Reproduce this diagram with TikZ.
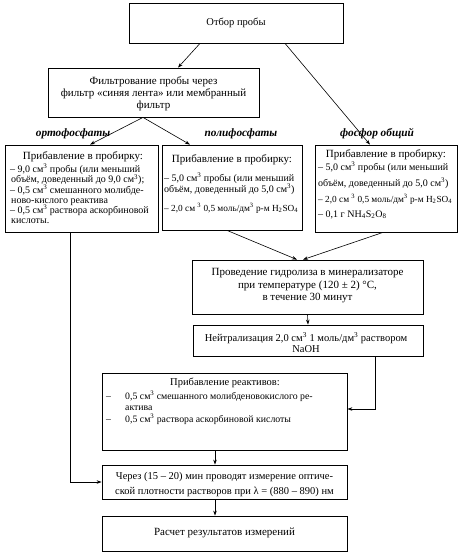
\documentclass[tikz,border=0pt]{standalone}
\usepackage{fontspec}
\setmainfont{Liberation Serif}
\usetikzlibrary{arrows.meta}
\begin{document}
\begin{tikzpicture}[x=1pt,y=-1pt,
  box/.style={draw, line width=0.8pt, inner sep=0pt, fill=white},
  big/.style={inner sep=0pt, anchor=mid, font=\fontsize{10.5}{12}\selectfont},
  bigl/.style={inner sep=0pt, anchor=mid, font=\fontsize{11}{12}\selectfont},
  mid/.style={inner sep=0pt, anchor=mid west, font=\fontsize{9.8}{11}\selectfont},
  head/.style={inner sep=0pt, anchor=mid, font=\fontsize{11}{13}\selectfont},
  sm/.style={inner sep=0pt, anchor=mid west, font=\fontsize{10}{11}\selectfont},
  smc/.style={inner sep=0pt, anchor=mid west, font=\fontsize{9.3}{11}\selectfont},
  lab/.style={inner sep=0pt, anchor=mid, font=\fontsize{11.3}{13}\bfseries\itshape},
  ln/.style={line width=0.6pt},
  arr/.style={ln, -{Stealth[length=5pt,width=3.5pt]}}
]
\useasboundingbox (0,0) rectangle (468,556);
\fill[white] (0,0) rectangle (468,556);

% boxes
\node[box, minimum width=214pt, minimum height=40pt] (b1) at (236,23) {};
\node[box, minimum width=211pt, minimum height=49pt] (b2) at (153.5,92.5) {};
\node[box, minimum width=153pt, minimum height=87pt] (b3a) at (81.5,188.5) {};
\node[box, minimum width=140pt, minimum height=85pt] (b3b) at (232,187.5) {};
\node[box, minimum width=142pt, minimum height=87pt] (b3c) at (386,188.5) {};
\node[box, minimum width=231pt, minimum height=54pt] (b4) at (307.5,287) {};
\node[box, minimum width=230pt, minimum height=31pt] (b5) at (308,340.5) {};
\node[box, minimum width=245pt, minimum height=77pt] (b6) at (224.5,411.5) {};
\node[box, minimum width=245pt, minimum height=34pt] (b7) at (224.5,482) {};
\node[box, minimum width=245pt, minimum height=35pt] (b8) at (224.5,533.5) {};

% texts
\node[big] (t1) at (236,23) {Отбор пробы};
\node[bigl] (t2a) at (153.5,82) {Фильтрование пробы через};
\node[bigl] (t2b) at (153.5,94) {фильтр «синяя лента» или мембранный};
\node[bigl] (t2c) at (153.5,106) {фильтр};

\node[head] (h3a) at (83,157) {Прибавление в пробирку:};
\node[sm] (a1) at (10,170) {– 9,0 см\textsuperscript{3} пробы (или меньший};
\node[sm] (a2) at (11,180.5) {объём, доведенный до 9,0 см\textsuperscript{3});};
\node[sm] (a3) at (10,191) {– 0,5 см\textsuperscript{3} смешанного молибде-};
\node[sm] (a4) at (11,201) {ново-кислого реактива};
\node[sm] (a5) at (10,211) {– 0,5 см\textsuperscript{3} раствора аскорбиновой};
\node[sm] (a6) at (11,221) {кислоты.};

\node[head] (h3b) at (232,160) {Прибавление в пробирку:};
\node[sm] (p1) at (164,179) {– 5,0 см\textsuperscript{3} пробы (или меньший};
\node[sm] (p2) at (164,190) {объём, доведенный до 5,0 см\textsuperscript{3})};
\node[smc] (p3) at (164,209) {– 2,0 см \textsuperscript{3} 0,5 моль/дм\textsuperscript{3} р-м H\textsubscript{2}SO\textsubscript{4}};

\node[head] (h3c) at (386,155) {Прибавление в пробирку:};
\node[sm] (c1) at (318,168) {– 5,0 см\textsuperscript{3} пробы (или меньший};
\node[sm] (c2) at (318,184) {объём, доведенный до 5,0 см\textsuperscript{3})};
\node[smc] (c3) at (318,200) {– 2,0 см \textsuperscript{3} 0,5 моль/дм\textsuperscript{3} р-м H\textsubscript{2}SO\textsubscript{4}};
\node[sm] (c4) at (318,215) {– 0,1 г NH\textsubscript{4}S\textsubscript{2}O\textsubscript{8}};

\node[lab] (l1) at (73,134) {ортофосфаты};
\node[lab] (l2) at (241,134) {полифосфаты};
\node[lab] (l3) at (377,134) {фосфор общий};

\node[bigl] (t4a) at (307.5,273) {Проведение гидролиза в минерализаторе};
\node[bigl] (t4b) at (307.5,286) {при температуре (120 ± 2) °C,};
\node[bigl] (t4c) at (307.5,298) {в течение 30 минут};

\node[big] (t5a) at (306,339) {Нейтрализация 2,0 см\textsuperscript{3} 1 моль/дм\textsuperscript{3} раствором};
\node[big] (t5b) at (306,350) {NaOH};

\node[big] (t6) at (225,383) {Прибавление реактивов:};
\node[mid] (d1) at (106,397) {–};
\node[mid] (r1) at (125,397) {0,5 см\textsuperscript{3} смешанного молибденовокислого ре-};
\node[mid] (r2) at (125,408) {актива};
\node[mid] (d2) at (106,420) {–};
\node[mid] (r3) at (125,420) {0,5 см\textsuperscript{3} раствора аскорбиновой кислоты};

\node[big] (t7a) at (224.5,477) {Через (15 – 20) мин проводят измерение оптиче-};
\node[big] (t7b) at (224.5,492) {ской плотности растворов при λ = (880 – 890) нм};

\node[bigl] (t8) at (224.5,533) {Расчет результатов измерений};

% connectors
\draw[arr] ([xshift=-36pt]b1.south) -- ([xshift=24.5pt]b2.north);
\draw[arr] ([xshift=49pt]b1.south) -- ([xshift=-16pt]b3c.north);
\draw[arr] ([xshift=-10.5pt]b2.south) -- ([xshift=8.5pt]b3a.north);
\draw[arr] ([xshift=-10.5pt]b2.south) -- ([xshift=-42pt]b3b.north);
\draw[arr] ([xshift=-5pt]b3b.south) -- ([xshift=-10.5pt]b4.north);
\draw[arr] ([xshift=-3pt]b3c.south) -- ([xshift=-4.5pt]b4.north);
\draw[arr] (b4.south) -- (b5.north);
\draw[arr] ([xshift=67pt]b5.south) |- ([yshift=2.5pt]b6.east);
\draw[arr] ([xshift=-9.5pt]b6.south) -- ([xshift=-9.5pt]b7.north);
\draw[arr] ([xshift=-11.5pt]b3a.south) |- (b7.west);
\draw[arr] ([xshift=-9.5pt]b7.south) -- ([xshift=-9.5pt]b8.north);
\end{tikzpicture}
\end{document}
